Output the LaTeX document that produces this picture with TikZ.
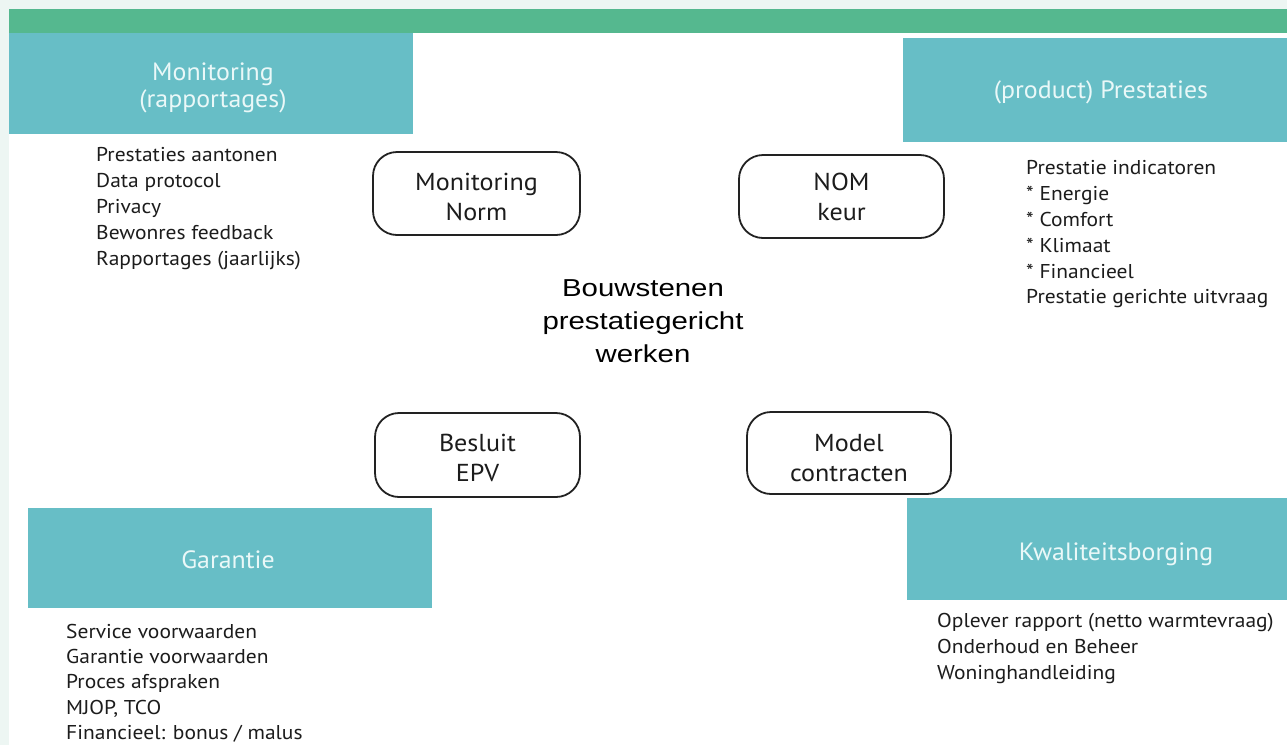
\documentclass[tikz,border=0pt]{standalone}
\usepackage{fontspec}
\setmainfont{PT Sans}
\newfontfamily\titlefont[FakeStretch=1.2]{Liberation Sans}
\newfontfamily\listfont[FakeStretch=1.075]{PT Sans}
\newfontfamily\hdrfont[FakeStretch=1.035]{PT Sans}
\newfontfamily\boxfont[FakeStretch=1.065]{PT Sans}
\definecolor{bgmint}{HTML}{EDF6F3}
\definecolor{bargreen}{HTML}{55B88F}
\definecolor{tealbox}{HTML}{67BEC6}
\definecolor{hdrwhite}{HTML}{EAF8F8}
\definecolor{txt}{HTML}{1C1C1C}
\definecolor{boxline}{HTML}{222222}
\tikzset{
  hdr/.style={fill=tealbox, draw=none, inner sep=0pt},
  hdrtext/.style={text=hdrwhite, align=center, inner sep=0pt, font=\hdrfont\fontsize{25}{27}\selectfont},
  rbox/.style={draw=boxline, line width=1.8pt, rounded corners=24pt, fill=white, inner sep=0pt},
  rtext/.style={text=txt, align=center, inner sep=0pt, font=\boxfont\fontsize{24.5}{30}\selectfont},
  listtext/.style={anchor=north west, inner sep=0pt, align=left, text=txt, font=\listfont\fontsize{20}{25.8}\selectfont},
  titletext/.style={align=center, inner sep=0pt, text=black, font=\titlefont\fontsize{24.5}{33}\selectfont}
}
\begin{document}
\begin{tikzpicture}[x=1pt,y=-1pt]
\useasboundingbox (0,0) rectangle (1287,745);
\fill[bgmint] (0,0) rectangle (1287,745);
\fill[white] (9,9) rectangle (1287,745);
\fill[bargreen] (9,9) rectangle (1287,33);

% header boxes
\node[hdr, minimum width=404pt, minimum height=101pt] (hmon) at (211,83.5) {};
\node[hdrtext] (hmonT) at (213,87.5) {Monitoring\\(rapportages)};
\node[hdr, minimum width=396pt, minimum height=104pt] (hpre) at (1101,90) {};
\node[hdrtext] (hpreT) at (1101,92) {(product) Prestaties};
\node[hdr, minimum width=404pt, minimum height=100pt] (hgar) at (230,558) {};
\node[hdrtext] (hgarT) at (228,560) {Garantie};
\node[hdr, minimum width=418pt, minimum height=102pt] (hkwa) at (1116,549) {};
\node[hdrtext] (hkwaT) at (1116,554.5) {Kwaliteitsborging};

% lists
\node[listtext] (lmon) at (96,147.5) {Prestaties aantonen\\Data protocol\\Privacy\\Bewonres feedback\\Rapportages (jaarlijks)};
\node[listtext] (lpre) at (1026,160.5) {Prestatie indicatoren\\* Energie\\* Comfort\\* Klimaat\\* Financieel\\Prestatie gerichte uitvraag};
\node[listtext, font=\listfont\fontsize{20}{25.2}\selectfont] (lgar) at (66,624) {Service voorwaarden\\Garantie voorwaarden\\Proces afspraken\\MJOP, TCO\\Financieel: bonus / malus};
\node[listtext] (lkwa) at (937,613.5) {Oplever rapport (netto warmtevraag)\\Onderhoud en Beheer\\Woninghandleiding};

% rounded boxes
\node[rbox, minimum width=207pt, minimum height=83pt] (mn) at (476.5,193.5) {};
\node[rtext] (mnT) at ([yshift=-3.5pt]mn.center) {Monitoring\\Norm};
\node[rbox, minimum width=205pt, minimum height=83pt] (nk) at (841.5,196.5) {};
\node[rtext] (nkT) at ([yshift=0pt]nk.center) {NOM\\keur};
\node[rbox, minimum width=205pt, minimum height=84pt] (be) at (477.5,455) {};
\node[rtext] (beT) at ([yshift=-2.5pt]be.center) {Besluit\\EPV};
\node[rbox, minimum width=204pt, minimum height=82pt] (mc) at (849,453) {};
\node[rtext] (mcT) at ([yshift=-5pt]mc.center) {Model\\contracten};

% title
\node[titletext] (title) at (643,321.5) {Bouwstenen\\prestatiegericht\\werken};
\end{tikzpicture}
\end{document}
